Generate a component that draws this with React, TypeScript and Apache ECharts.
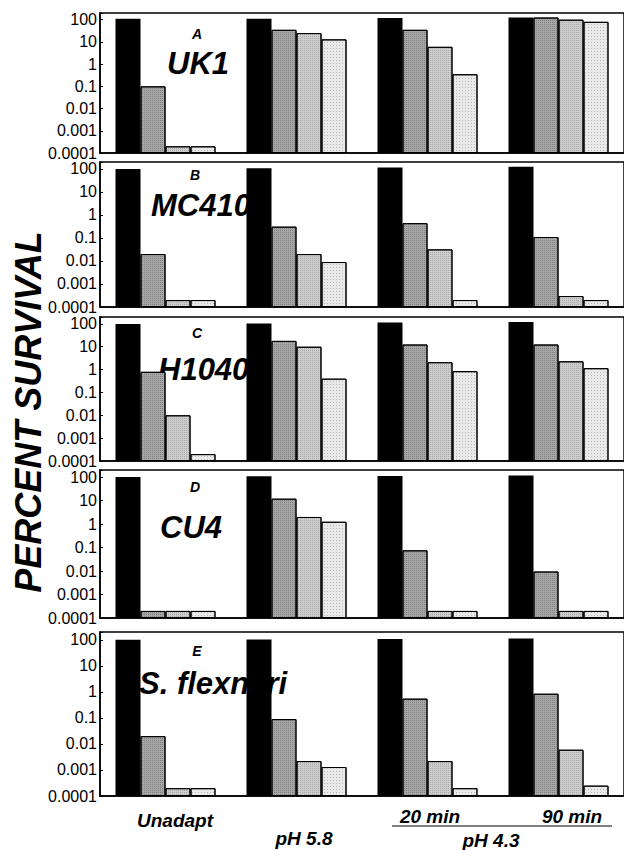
import React, { useEffect, useRef } from 'react';
import * as echarts from 'echarts';

// ---- data ----
const categories = ['Unadapt', 'pH 5.8', '20 min', '90 min'];
const seriesNames = ['Black', 'Dark stipple', 'Light stipple', 'Lightest stipple'];
const panelLetters = ['A', 'B', 'C', 'D', 'E'];
const panelNames = ['UK1', 'MC410', 'H1040', 'CU4', 'S. flexneri'];
const yTicks = [0.0001, 0.001, 0.01, 0.1, 1, 10, 100];

const UK1_BLACK = [110, 110, 120, 125];
const UK1_DARK = [0.1, 35, 35, 125];
const UK1_LIGHT = [0.0002, 25, 6, 100];
const UK1_LIGHTEST = [0.0002, 13, 0.35, 80];

const MC410_BLACK = [100, 108, 115, 125];
const MC410_DARK = [0.02, 0.31, 0.44, 0.11];
const MC410_LIGHT = [0.0002, 0.02, 0.032, 0.0003];
const MC410_LIGHTEST = [0.0002, 0.009, 0.0002, 0.0002];

const H1040_BLACK = [100, 105, 115, 120];
const H1040_DARK = [0.8, 18, 12.5, 12.5];
const H1040_LIGHT = [0.01, 10, 2.1, 2.3];
const H1040_LIGHTEST = [0.0002, 0.4, 0.85, 1.15];

const CU4_BLACK = [100, 108, 112, 118];
const CU4_DARK = [0.0002, 12, 0.076, 0.0095];
const CU4_LIGHT = [0.0002, 2, 0.0002, 0.0002];
const CU4_LIGHTEST = [0.0002, 1.25, 0.0002, 0.0002];

const SF_BLACK = [100, 102, 108, 112];
const SF_DARK = [0.02, 0.09, 0.55, 0.85];
const SF_LIGHT = [0.0002, 0.0022, 0.0022, 0.006];
const SF_LIGHTEST = [0.0002, 0.0013, 0.0002, 0.00025];

const panelData = [
  [UK1_BLACK, UK1_DARK, UK1_LIGHT, UK1_LIGHTEST],
  [MC410_BLACK, MC410_DARK, MC410_LIGHT, MC410_LIGHTEST],
  [H1040_BLACK, H1040_DARK, H1040_LIGHT, H1040_LIGHTEST],
  [CU4_BLACK, CU4_DARK, CU4_LIGHT, CU4_LIGHTEST],
  [SF_BLACK, SF_DARK, SF_LIGHT, SF_LIGHTEST],
];

// ---- layout / style ----
const FONT = "'Liberation Sans', Arial, Helvetica, sans-serif";
const gridBoxes = [
  { top: 13, height: 140 },
  { top: 162, height: 145 },
  { top: 317, height: 144 },
  { top: 470, height: 148 },
  { top: 632, height: 164 },
];
const letterPos = [
  [197, 34], [195, 175], [197, 333], [195, 487], [197, 651],
];
const namePos = [
  [167, 63], [151, 205], [158, 369], [160, 527], [139, 683],
];
const fills = ['#000000', '#a6a6a6', '#cdcdcd', '#e9e9e9'];
const decals = [
  null,
  { symbol: 'rect', symbolSize: 1, dashArrayX: [1, 1], dashArrayY: [1, 1], color: 'rgba(60,60,60,0.35)' },
  { symbol: 'rect', symbolSize: 1, dashArrayX: [1, 1], dashArrayY: [1, 1], color: 'rgba(90,90,90,0.3)' },
  { symbol: 'rect', symbolSize: 1, dashArrayX: [1, 2], dashArrayY: [1, 2], color: 'rgba(90,90,90,0.35)' },
];
const bottomLabels = [
  { text: 'Unadapt', x: 175, y: 820 },
  { text: 'pH 5.8', x: 304, y: 838 },
  { text: '20 min', x: 430, y: 816 },
  { text: '90 min', x: 572, y: 816 },
  { text: 'pH 4.3', x: 491, y: 840 },
];

function fmtLog(v: number): string {
  const l = Math.log10(v);
  const e = Math.round(l);
  if (Math.abs(l - e) > 0.01) return '';
  if (!yTicks.some((t) => Math.abs(Math.log10(t) - e) < 0.01)) return '';
  return e >= 0 ? String(Math.pow(10, e)) : Math.pow(10, e).toFixed(-e);
}

export default function App() {
  const ref = useRef<HTMLDivElement>(null);
  useEffect(() => {
    if (!ref.current) return;
    const chart = echarts.init(ref.current, undefined, { renderer: 'svg' });

    const grids = gridBoxes.map((g) => ({
      left: 100,
      right: 0,
      top: g.top,
      height: g.height,
      show: true,
      borderColor: '#000',
      borderWidth: 1.5,
      backgroundColor: 'transparent',
    }));
    const xAxes = gridBoxes.map((_, i) => ({
      type: 'category',
      gridIndex: i,
      data: categories,
      axisLine: { show: true, lineStyle: { color: '#000', width: 1.5 } },
      axisTick: { show: false },
      axisLabel: { show: false },
      splitLine: { show: false },
    }));
    const yAxes = gridBoxes.map((_, i) => ({
      type: 'log',
      logBase: 10,
      gridIndex: i,
      min: 0.0001,
      max: 200,
      startValue: 0.0001,
      axisLine: { show: true, lineStyle: { color: '#000', width: 1.5 } },
      axisTick: { show: true, inside: true, length: 3, lineStyle: { color: '#000' } },
      axisLabel: {
        color: '#000',
        fontSize: 16,
        fontFamily: FONT,
        margin: 3,
        formatter: (v: number) => fmtLog(v),
      },
      splitLine: { show: false },
    }));

    const series: any[] = [];
    panelData.forEach((panel, pi) => {
      panel.forEach((vals, si) => {
        series.push({
          type: 'bar',
          name: seriesNames[si],
          xAxisIndex: pi,
          yAxisIndex: pi,
          data: vals,
          barWidth: 25,
          barGap: '0%',
          z: 3,
          itemStyle: {
            color: fills[si],
            borderColor: '#000',
            borderWidth: si === 0 ? 0 : 1,
            decal: decals[si] || undefined,
          },
        });
      });
    });

    const graphics: any[] = [];
    panelLetters.forEach((l, i) => {
      graphics.push({
        type: 'text',
        x: letterPos[i][0],
        y: letterPos[i][1],
        z: 1,
        style: {
          text: l,
          font: `italic bold 14px ${FONT}`,
          fill: '#000',
          textAlign: 'center',
          textVerticalAlign: 'middle',
        },
      });
      graphics.push({
        type: 'text',
        x: namePos[i][0],
        y: namePos[i][1],
        z: 1,
        style: {
          text: panelNames[i],
          font: `italic bold 31px ${FONT}`,
          fill: '#000',
          textAlign: 'left',
          textVerticalAlign: 'middle',
        },
      });
    });
    bottomLabels.forEach((b) => {
      graphics.push({
        type: 'text',
        x: b.x,
        y: b.y,
        style: {
          text: b.text,
          font: `italic bold 19px ${FONT}`,
          fill: '#000',
          textAlign: 'center',
          textVerticalAlign: 'middle',
        },
      });
    });
    graphics.push({
      type: 'line',
      shape: { x1: 392, y1: 826, x2: 612, y2: 826 },
      style: { stroke: '#000', lineWidth: 1 },
    });
    graphics.push({
      type: 'text',
      x: 28,
      y: 412,
      rotation: Math.PI / 2,
      style: {
        text: 'PERCENT SURVIVAL',
        font: `italic bold 36px ${FONT}`,
        fill: '#000',
        textAlign: 'center',
        textVerticalAlign: 'middle',
      },
    });

    chart.setOption({
      animation: false,
      backgroundColor: '#fff',
      grid: grids,
      xAxis: xAxes,
      yAxis: yAxes,
      series,
      graphic: graphics,
    });
    return () => chart.dispose();
  }, []);
  return (
    <div
      ref={ref}
      style={{ position: 'fixed', left: 0, top: 0, width: 624, height: 850 }}
    />
  );
}
